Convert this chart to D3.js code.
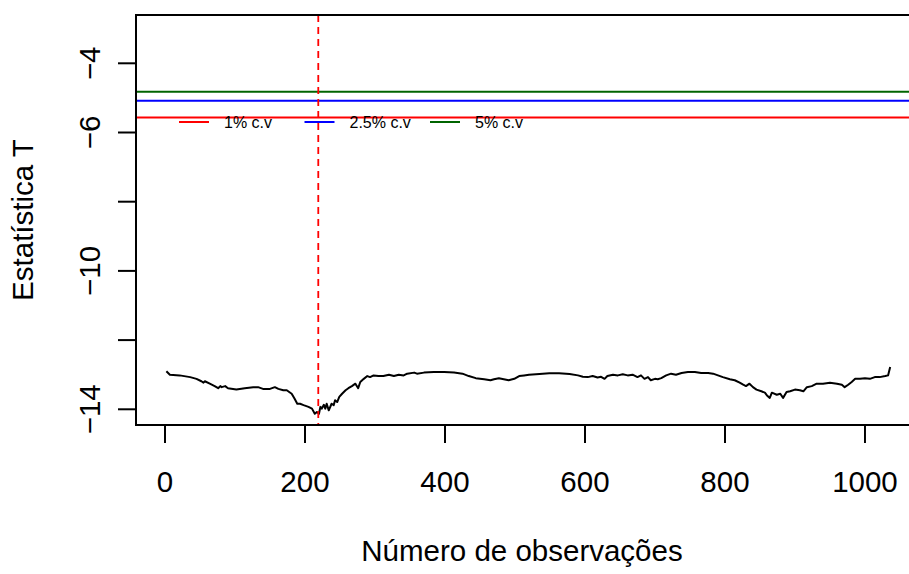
<!DOCTYPE html>
<html>
<head>
<meta charset="utf-8">
<script src="https://cdn.jsdelivr.net/npm/d3@7"></script>
<style>
  html, body { margin: 0; padding: 0; background: #fff; }
  svg { display: block; }
  text { font-family: "Liberation Sans", Arial, Helvetica, sans-serif; fill: #000; }
</style>
</head>
<body>
<svg id="chart" width="909" height="574"></svg>
<script>
// Zivot-Andrews style search: t statistic for each candidate break date
const obsIndex = [
  2, 7, 21, 36, 45, 52, 55, 57, 64, 71, 76, 79, 81, 86, 90, 102, 114, 126, 133, 140,
  150, 157, 162, 169, 174, 181, 185, 189, 193, 198, 205, 210, 214, 217, 220, 222,
  224, 227, 229, 231, 234, 238, 241, 243, 246, 249, 253, 258, 262, 267, 272, 276,
  279, 284, 289, 293, 298, 305, 312, 320, 327, 334, 341, 346, 356, 360, 370, 384,
  399, 413, 425, 434, 444, 456, 465, 470, 477, 484, 491, 499, 506, 513, 520, 535,
  549, 563, 578, 590, 597, 604, 611, 618, 623, 628, 632, 640, 647, 654, 661, 668,
  675, 680, 685, 690, 694, 700, 704, 709, 716, 723, 730, 738, 747, 757, 766, 776,
  783, 790, 797, 807, 814, 821, 826, 830, 835, 840, 845, 852, 857, 860, 864, 867,
  874, 879, 883, 888, 893, 900, 907, 912, 917, 924, 931, 940, 950, 960, 967, 971,
  976, 981, 986, 993, 1000, 1007, 1014, 1021, 1029, 1033, 1036
];
const tStat = [
  -12.90, -13.00, -13.02, -13.07, -13.12, -13.19, -13.23, -13.19, -13.26, -13.33,
  -13.39, -13.33, -13.36, -13.33, -13.39, -13.43, -13.39, -13.36, -13.36, -13.41,
  -13.41, -13.36, -13.41, -13.45, -13.45, -13.55, -13.69, -13.84, -13.84, -13.88,
  -13.93, -13.98, -14.13, -14.08, -14.13, -13.93, -13.98, -13.87, -13.98, -13.84,
  -14.03, -13.84, -13.88, -13.74, -13.79, -13.64, -13.55, -13.45, -13.39, -13.33,
  -13.26, -13.39, -13.21, -13.12, -13.04, -13.07, -13.02, -13.04, -13.04, -13.00,
  -13.04, -13.00, -13.02, -12.97, -12.94, -12.97, -12.94, -12.92, -12.92, -12.94,
  -12.97, -13.04, -13.10, -13.13, -13.16, -13.13, -13.10, -13.13, -13.16, -13.12,
  -13.04, -13.02, -13.00, -12.98, -12.96, -12.96, -12.98, -13.02, -13.06, -13.07,
  -13.04, -13.08, -13.06, -13.12, -13.04, -13.00, -13.02, -12.99, -13.02, -13.00,
  -13.07, -13.02, -13.12, -13.07, -13.16, -13.12, -13.13, -13.10, -13.02, -12.97,
  -13.00, -12.95, -12.92, -12.92, -12.95, -12.95, -12.97, -13.02, -13.07, -13.13,
  -13.16, -13.23, -13.29, -13.33, -13.26, -13.36, -13.43, -13.48, -13.52, -13.60,
  -13.67, -13.52, -13.58, -13.55, -13.67, -13.50, -13.48, -13.43, -13.45, -13.48,
  -13.36, -13.33, -13.26, -13.26, -13.23, -13.26, -13.29, -13.36, -13.29, -13.21,
  -13.12, -13.12, -13.10, -13.12, -13.07, -13.07, -13.04, -13.02, -12.78
];

// Critical values and the estimated break point
const critLabels = ["1% c.v", "2.5% c.v", "5% c.v"];
const critValues = [-5.57, -5.08, -4.82];
const critColors = ["#ff0000", "#0000ff", "#006400"];
const breakPoint = 219;

// Axis ticks
const xTicks = [0, 200, 400, 600, 800, 1000];
const yTicks = [-14, -12, -10, -8, -6, -4];
const yTickLabels = ["\u221214", "", "\u221210", "", "\u22126", "\u22124"];

const xTitle = "Número de observações";
const yTitle = "Estatística T";

// Plot region
const plot = { left: 136, top: 15, right: 937, bottom: 425 };
const fontSize = 29.5;

const svg = d3.select("#chart");

const x = d3.scaleLinear().domain([-41.4, 1102.9]).range([plot.left, plot.right]);
const y = d3.scaleLinear().domain([-14.454, -2.604]).range([plot.bottom, plot.top]);

svg.append("defs").append("clipPath").attr("id", "plotClip")
  .append("rect")
  .attr("x", plot.left).attr("y", plot.top)
  .attr("width", plot.right - plot.left).attr("height", plot.bottom - plot.top);

const inner = svg.append("g").attr("clip-path", "url(#plotClip)");

// Series
const line = d3.line().x((d, i) => x(obsIndex[i])).y(d => y(d));
inner.append("path")
  .datum(tStat)
  .attr("d", line)
  .attr("fill", "none")
  .attr("stroke", "#000")
  .attr("stroke-width", 2)
  .attr("stroke-linejoin", "round");

// Critical value lines
inner.selectAll("line.cv")
  .data(critValues)
  .join("line")
  .attr("class", "cv")
  .attr("x1", plot.left).attr("x2", plot.right)
  .attr("y1", d => y(d)).attr("y2", d => y(d))
  .attr("stroke", (d, i) => critColors[i])
  .attr("stroke-width", 2);

// Break point
inner.append("line")
  .attr("x1", x(breakPoint)).attr("x2", x(breakPoint))
  .attr("y1", plot.top).attr("y2", plot.bottom)
  .attr("stroke", "#ff0000")
  .attr("stroke-width", 1.8)
  .attr("stroke-dasharray", "7,5");

// Frame
svg.append("rect")
  .attr("x", plot.left).attr("y", plot.top)
  .attr("width", plot.right - plot.left).attr("height", plot.bottom - plot.top)
  .attr("fill", "none").attr("stroke", "#000").attr("stroke-width", 2);

// X axis
const tickLen = 18;
const xAxis = svg.append("g");
xAxis.append("line")
  .attr("x1", x(xTicks[0])).attr("x2", x(xTicks[xTicks.length - 1]))
  .attr("y1", plot.bottom).attr("y2", plot.bottom)
  .attr("stroke", "#000").attr("stroke-width", 2);
xAxis.selectAll("line.tick").data(xTicks).join("line")
  .attr("class", "tick")
  .attr("x1", d => x(d)).attr("x2", d => x(d))
  .attr("y1", plot.bottom).attr("y2", plot.bottom + tickLen)
  .attr("stroke", "#000").attr("stroke-width", 2);
xAxis.selectAll("text").data(xTicks).join("text")
  .attr("x", d => x(d)).attr("y", 492)
  .attr("text-anchor", "middle")
  .attr("font-size", fontSize)
  .text(d => d);

// Y axis
const yAxis = svg.append("g");
yAxis.append("line")
  .attr("x1", plot.left).attr("x2", plot.left)
  .attr("y1", y(yTicks[0])).attr("y2", y(yTicks[yTicks.length - 1]))
  .attr("stroke", "#000").attr("stroke-width", 2);
yAxis.selectAll("line.tick").data(yTicks).join("line")
  .attr("class", "tick")
  .attr("x1", plot.left - tickLen).attr("x2", plot.left)
  .attr("y1", d => y(d)).attr("y2", d => y(d))
  .attr("stroke", "#000").attr("stroke-width", 2);
yAxis.selectAll("text").data(yTicks).join("text")
  .attr("transform", d => `translate(100,${y(d)}) rotate(-90)`)
  .attr("text-anchor", "middle")
  .attr("font-size", fontSize)
  .text((d, i) => yTickLabels[i]);

// Axis titles
svg.append("text")
  .attr("x", 522).attr("y", 561)
  .attr("text-anchor", "middle")
  .attr("font-size", fontSize)
  .text(xTitle);

svg.append("text")
  .attr("transform", `translate(33,${(plot.top + plot.bottom) / 2}) rotate(-90)`)
  .attr("text-anchor", "middle")
  .attr("font-size", fontSize)
  .text(yTitle);

// Legend
const legend = { x: 179, y: 122, step: 125.5, seg: 30, gap: 15 };
const items = svg.append("g").selectAll("g").data(critLabels).join("g")
  .attr("transform", (d, i) => `translate(${legend.x + i * legend.step},${legend.y})`);
items.append("line")
  .attr("x1", 0).attr("x2", legend.seg)
  .attr("y1", 0).attr("y2", 0)
  .attr("stroke", (d, i) => critColors[i])
  .attr("stroke-width", 2);
items.append("text")
  .attr("x", legend.seg + legend.gap).attr("y", 0)
  .attr("dy", "0.35em")
  .attr("font-size", 16)
  .text(d => d);
</script>
</body>
</html>
